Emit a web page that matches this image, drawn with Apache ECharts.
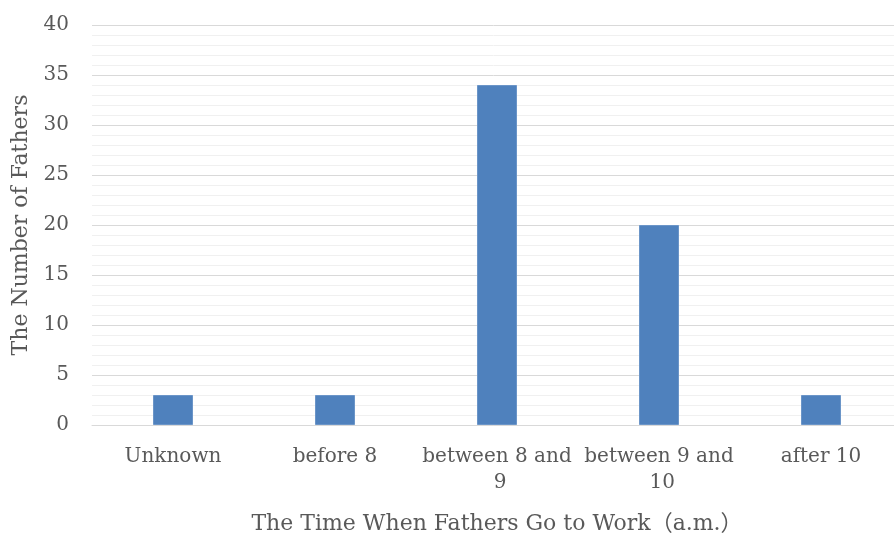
<!DOCTYPE html>
<html>
<head>
<meta charset="utf-8">
<script src="https://cdn.jsdelivr.net/npm/echarts@6/dist/echarts.min.js"></script>
<style>
  html, body { margin: 0; padding: 0; background: #fff; }
  #chart { width: 894px; height: 534px; }
</style>
</head>
<body>
<div id="chart"></div>
<script>
// Departure times of fathers and how many fathers leave in each slot
const categories = ['Unknown', 'before 8', 'between 8 and 9', 'between 9 and 10', 'after 10'];
const fatherCounts = [3, 3, 34, 20, 3];
const yTicks = [0, 5, 10, 15, 20, 25, 30, 35, 40];

const FONT = '"DejaVu Serif", "Liberation Serif", "Noto Sans CJK SC", serif';
const TEXT = '#595959';

const chart = echarts.init(document.getElementById('chart'), null, { renderer: 'canvas' });
chart.setOption({
  animation: false,
  grid: {
    left: 92, right: -8, top: 25, bottom: 109,
    containLabel: false, outerBoundsMode: 'none'
  },
  xAxis: {
    type: 'category',
    data: categories,
    name: 'The Time When Fathers Go to Work（a.m.）',
    nameLocation: 'middle',
    nameGap: 88,
    nameTextStyle: { fontFamily: FONT, fontSize: 22, color: TEXT },
    axisLine: { show: true, lineStyle: { color: '#d9d9d9', width: 1 } },
    axisTick: { show: false },
    axisLabel: {
      fontFamily: FONT, fontSize: 20, color: TEXT, margin: 19,
      width: 152, overflow: 'break', lineHeight: 26, interval: 0
    }
  },
  yAxis: {
    type: 'value',
    min: yTicks[0],
    max: yTicks[yTicks.length - 1],
    interval: 5,
    name: 'The Number of Fathers',
    nameLocation: 'middle',
    nameGap: 58,
    nameTextStyle: { fontFamily: FONT, fontSize: 22, color: TEXT },
    axisLine: { show: false },
    axisTick: { show: false },
    axisLabel: { fontFamily: FONT, fontSize: 20, color: TEXT, margin: 23 },
    splitLine: { lineStyle: { color: '#d9d9d9', width: 1 } },
    minorTick: { show: false, splitNumber: 5 },
    minorSplitLine: { show: true, lineStyle: { color: '#f0f0f0', width: 1 } }
  },
  series: [{
    type: 'bar',
    data: fatherCounts,
    barWidth: 40,
    itemStyle: { color: '#4f81bd', borderColor: '#6b95c8', borderWidth: 1 }
  }]
});
</script>
</body>
</html>
